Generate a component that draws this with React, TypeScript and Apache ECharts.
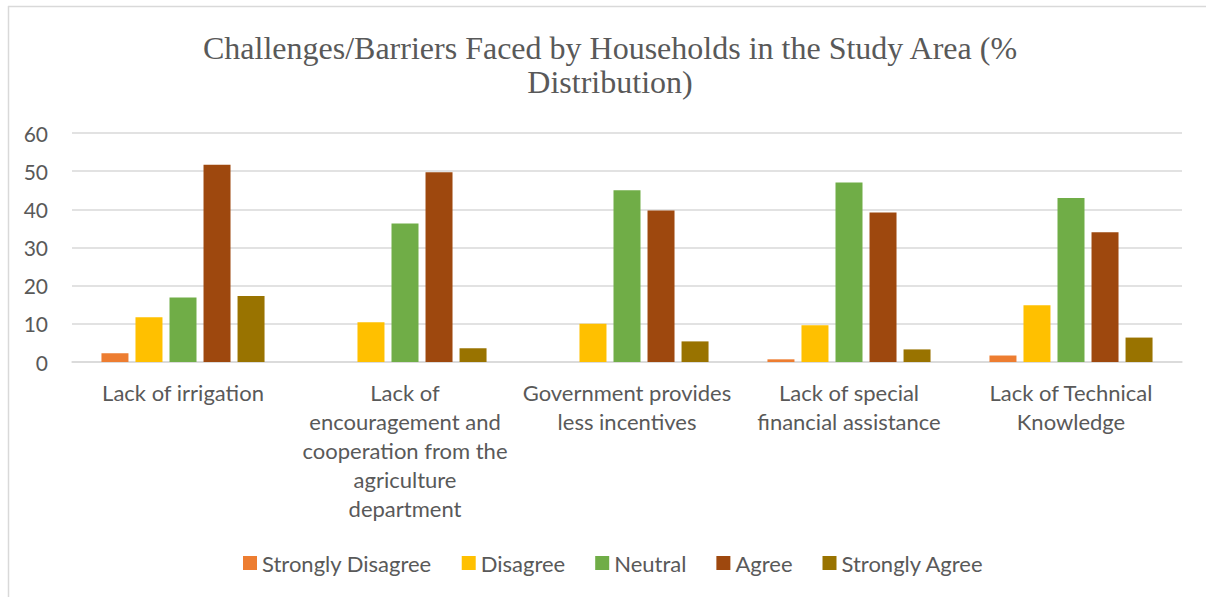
import React, { useEffect, useRef } from "react";
import * as echarts from "echarts";

const categories = [
  "Lack of irrigation",
  "Lack of\nencouragement and\ncooperation from the\nagriculture\ndepartment",
  "Government provides\nless incentives",
  "Lack of special\nfinancial assistance",
  "Lack of Technical\nKnowledge",
];
const seriesNames = ["Strongly Disagree", "Disagree", "Neutral", "Agree", "Strongly Agree"];
const stronglyDisagree = [2.3, 0, 0, 0.7, 1.7];
const disagree = [11.7, 10.4, 10.0, 9.6, 14.9];
const neutral = [16.9, 36.3, 45.0, 47.0, 43.0];
const agree = [51.7, 49.7, 39.7, 39.2, 34.0];
const stronglyAgree = [17.3, 3.6, 5.4, 3.3, 6.4];
const colors = ["#ED7D31", "#FFC000", "#70AD47", "#9E480E", "#997300"];
const titleText = "Challenges/Barriers Faced by Households in the Study Area (%\nDistribution)";

export default function App() {
  const ref = useRef<HTMLDivElement>(null);
  useEffect(() => {
    if (!ref.current) return;
    const chart = echarts.init(ref.current, undefined, { renderer: "svg" });
    const values = [stronglyDisagree, disagree, neutral, agree, stronglyAgree];
    const font = "Lato, 'Open Sans', sans-serif";
    chart.setOption({
      animation: false,
      backgroundColor: "#ffffff",
      color: colors,
      title: {
        text: titleText,
        left: 605,
        textAlign: "center",
        top: 26,
        textStyle: {
          fontFamily: "'Liberation Serif', 'Times New Roman', serif",
          fontSize: 32,
          fontWeight: "normal",
          color: "#595959",
          lineHeight: 34,
        },
      },
      graphic: [
        { type: "line", shape: { x1: 8, y1: 6.5, x2: 1206, y2: 6.5 }, style: { stroke: "#d9d9d9", lineWidth: 1.5 } },
        { type: "line", shape: { x1: 8.5, y1: 6, x2: 8.5, y2: 597 }, style: { stroke: "#d9d9d9", lineWidth: 1.5 } },
      ],
      legend: {
        top: 547,
        left: 238,
        itemWidth: 14,
        itemHeight: 14,
        itemGap: 30,
        icon: "rect",
        textStyle: { fontFamily: font, fontSize: 22, color: "#595959" },
        data: seriesNames,
      },
      grid: { left: 72, right: 24, top: 133, bottom: 235, containLabel: false },
      xAxis: {
        type: "category",
        data: categories,
        axisLine: { lineStyle: { color: "#d9d9d9", width: 1.5 } },
        axisTick: { show: false },
        axisLabel: {
          fontFamily: font,
          fontSize: 22,
          color: "#595959",
          lineHeight: 29,
          margin: 16,
          interval: 0,
        },
      },
      yAxis: {
        type: "value",
        min: 0,
        max: 60,
        interval: 10,
        axisLine: { show: false },
        axisTick: { show: false },
        splitLine: { lineStyle: { color: "#d9d9d9", width: 1.5 } },
        axisLabel: { fontFamily: font, fontSize: 21, color: "#595959", margin: 24 },
      },
      series: seriesNames.map((name, i) => ({
        name,
        type: "bar",
        data: values[i],
        barWidth: 27,
        barGap: "26%",
        itemStyle: { color: colors[i] },
      })),
    });
    return () => chart.dispose();
  }, []);
  return (
    <div
      ref={ref}
      style={{ position: "fixed", left: 0, top: 0, width: 1206, height: 597 }}
    />
  );
}
